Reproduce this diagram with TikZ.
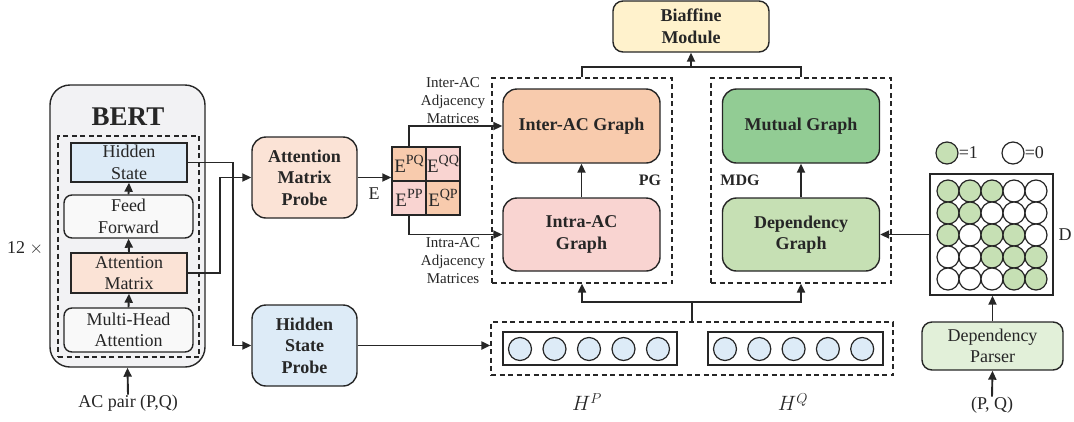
\documentclass[tikz,border=0pt]{standalone}
\usepackage{fontspec}
\setmainfont{Liberation Serif}
\usetikzlibrary{calc,arrows.meta}
\definecolor{bertgray}{HTML}{F2F2F4}
\definecolor{hidblue}{HTML}{DDEBF7}
\definecolor{peach}{HTML}{FBE3D6}
\definecolor{orangeac}{HTML}{F8CBAD}
\definecolor{pinkac}{HTML}{F9D4D1}
\definecolor{mutgreen}{HTML}{92CC94}
\definecolor{depgreen}{HTML}{C6E0B4}
\definecolor{parsegreen}{HTML}{E2F0D9}
\definecolor{biafyellow}{HTML}{FFF2CC}
\definecolor{linecol}{HTML}{262626}
\newcommand{\esup}[1]{E\raisebox{0.42em}{\fontsize{14}{14}\selectfont #1}}
\tikzset{
 txt/.style={font=\fontsize{18}{21.6}\selectfont,align=center,inner sep=0pt},
 small/.style={font=\fontsize{15}{18}\selectfont,align=center,inner sep=0pt},
 box/.style={draw=linecol,line width=1.4pt,txt},
 rbox/.style={box,rounded corners=14pt},
 bbox/.style={rbox,font=\fontsize{18}{21.6}\selectfont\bfseries},
 ecell/.style={box,minimum size=34,font=\fontsize{19}{19}\selectfont},
 dashbox/.style={draw=linecol,line width=1.2pt,dash pattern=on 5pt off 3.5pt},
 link/.style={draw=linecol,line width=1.9pt},
 arr/.style={link,-{Triangle[length=9pt,width=8pt]}},
 dot/.style={circle,draw=linecol,line width=1.2pt,inner sep=0pt},
 dot0/.style={fill=white},
 dot1/.style={fill=depgreen},
}
\begin{document}
\begin{tikzpicture}[x=1pt,y=-1pt,color=linecol]
 \useasboundingbox (0,0) rectangle (1074,421);
 % BERT encoder
 \node[rbox,rounded corners=20pt,fill=bertgray,minimum width=155,minimum height=282] (bert) at (127.5,226) {};
 \node[txt,font=\fontsize{27}{30}\selectfont\bfseries] (bertlbl) at (128,117) {BERT};
 \node[dashbox,minimum width=141,minimum height=221] (layers) at (128.5,246.5) {};
 \node[box,fill=hidblue,minimum width=116,minimum height=39] (hid) at (129,162.5) {Hidden\\State};
 \node[box,rounded corners=8pt,fill=gray!5,minimum width=129,minimum height=43] (ffn) at (128.5,216.5) {Feed\\Forward};
 \node[box,fill=peach,minimum width=116,minimum height=40] (attm) at (129,273) {Attention\\Matrix};
 \node[box,rounded corners=8pt,fill=gray!5,minimum width=129,minimum height=44] (mha) at (128.5,330) {Multi-Head\\Attention};
 \node[txt] (twelve) at (25,248) {12 $\times$};
 \node[txt] (acpair) at (128,403) {AC pair (P,Q)};
 \draw[arr] (acpair.north) -- (bert.south);
 \draw[arr] (mha.north) -- (attm.south);
 \draw[arr] (attm.north) -- (ffn.south);
 \draw[arr] (ffn.north) -- (hid.south);
 % probes
 \node[bbox,fill=peach,minimum width=105,minimum height=81] (amp) at (304.5,177.5) {Attention\\Matrix\\Probe};
 \node[bbox,fill=hidblue,minimum width=105,minimum height=81] (hsp) at (304.5,345.5) {Hidden\\State\\Probe};
 \draw[arr] (hid.east) -- ++(45,0) |- (hsp.west);
 \draw[arr] (attm.east) -- ++(32,0) |- (amp.west);
 % attention matrix E
 \node[ecell,fill=orangeac] (epq) at (409,164) {\esup{PQ}};
 \node[ecell,fill=pinkac] (eqq) at (443,164) {\esup{QQ}};
 \node[ecell,fill=pinkac] (epp) at (409,198) {\esup{PP}};
 \node[ecell,fill=orangeac] (eqp) at (443,198) {\esup{QP}};
 \draw[arr] (amp.east) -- (amp.east -| epq.west);
 \node[txt] (elbl) at (374,194) {E};
 \node[small] (interlbl) at (453,101) {Inter-AC\\Adjacency\\Matrices};
 \node[small] (intralbl) at (453,261) {Intra-AC\\Adjacency\\Matrices};
 % PG and MDG
 \node[dashbox,minimum width=180,minimum height=205] (pg) at (582,180.5) {};
 \node[dashbox,minimum width=180,minimum height=205] (mdg) at (801,180.5) {};
 \node[bbox,fill=orangeac,minimum width=157,minimum height=74] (inter) at (581.5,126) {Inter-AC Graph};
 \node[bbox,fill=pinkac,minimum width=157,minimum height=73] (intra) at (581.5,234.5) {Intra-AC\\Graph};
 \node[bbox,fill=mutgreen,minimum width=157,minimum height=74] (mutual) at (801,126) {Mutual Graph};
 \node[bbox,fill=depgreen,minimum width=157,minimum height=73] (dep) at (801,234.5) {Dependency\\Graph};
 \node[txt,font=\fontsize{16}{18}\selectfont\bfseries] (pglbl) at (650,180) {PG};
 \node[txt,font=\fontsize{16}{18}\selectfont\bfseries] (mdglbl) at (740,180) {MDG};
 \draw[arr] (epq.north) |- (inter.west);
 \draw[arr] (epp.south) |- (intra.west);
 \draw[arr] (intra.north) -- (inter.south);
 \draw[arr] (dep.north) -- (mutual.south);
 % biaffine
 \node[bbox,rounded corners=10pt,fill=biafyellow,minimum width=156,minimum height=51] (biaf) at (691,26.5) {Biaffine\\Module};
 \coordinate (tj) at (691,67);
 \draw[link] (pg.north) |- (tj) -| (mdg.north);
 \draw[arr] (tj) -- (biaf.south);
 % hidden vectors
 \node[dashbox,minimum width=402,minimum height=53] (hbox) at (692,348.5) {};
 \node[box,minimum width=174,minimum height=33] (hprect) at (590,348.5) {};
 \node[box,minimum width=175,minimum height=33] (hqrect) at (795.5,348.5) {};
 \foreach \i in {0,...,4} {
  \node[dot,fill=hidblue,minimum size=23] (hp\i) at (520+34.5*\i,349) {};
  \node[dot,fill=hidblue,minimum size=23] (hq\i) at (725+34.3*\i,349) {};
 }
 \node[txt,font=\fontsize{20}{22}\selectfont] (hplbl) at (587,402) {$H^{P}$};
 \node[txt,font=\fontsize{20}{22}\selectfont] (hqlbl) at (793,402) {$H^{Q}$};
 \draw[arr] (hsp.east) -- (hsp.east -| hbox.west);
 \coordinate (bj) at (692,302);
 \draw[link] (hbox.north) -- (bj);
 \draw[arr] (bj) -| (pg.south);
 \draw[arr] (bj) -| (mdg.south);
 % dependency matrix D
 \node[dot,dot1,minimum size=22] (leg1) at (947,153) {};
 \node[txt,anchor=west] (leg1lbl) at (leg1.east) {=1};
 \node[dot,dot0,minimum size=22] (leg0) at (1013,153) {};
 \node[txt,anchor=west] (leg0lbl) at (leg0.east) {=0};
 \node[box,minimum width=123,minimum height=121] (dmat) at (991.5,234.5) {};
 \foreach \row [count=\r] in {{1,1,1,0,0},{1,1,0,0,0},{1,0,1,1,0},{0,0,1,1,1},{0,0,0,1,1}}
  \foreach \v [count=\c] in \row
   \node[dot,dot\v,minimum size=22] (d\r\c) at (926+22*\c,169+22*\r) {};
 \node[txt] (dlbl) at (1065,235) {D};
 \draw[arr] (dmat.west) -- (dep.east);
 \node[box,rounded corners=10pt,fill=parsegreen,minimum width=141,minimum height=48] (parser) at (992.5,346) {Dependency\\Parser};
 \node[txt] (pq) at (992,405) {(P, Q)};
 \draw[arr] (parser.north) -- (parser.north |- dmat.south);
 \draw[arr] (pq.north) -- (parser.south);
\end{tikzpicture}
\end{document}
